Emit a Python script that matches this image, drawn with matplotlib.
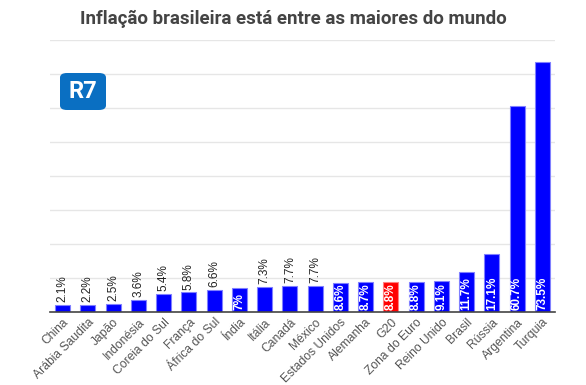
import matplotlib
matplotlib.use("Agg")
import matplotlib.pyplot as plt
from matplotlib.patches import FancyBboxPatch

countries = ["China", "Arábia Saudita", "Japão", "Indonésia", "Coreia do Sul", "França",
             "África do Sul", "Índia", "Itália", "Canadá", "México", "Estados Unidos",
             "Alemanha", "G20", "Zona do Euro", "Reino Unido", "Brasil", "Rússia",
             "Argentina", "Turquia"]
values = [2.1, 2.2, 2.5, 3.6, 5.4, 5.8, 6.6, 7.0, 7.3, 7.7, 7.7, 8.6, 8.7, 8.8, 8.8, 9.1,
          11.7, 17.1, 60.7, 73.5]
labels = ["2.1%", "2.2%", "2.5%", "3.6%", "5.4%", "5.8%", "6.6%", "7%", "7.3%", "7.7%",
          "7.7%", "8.6%", "8.7%", "8.8%", "8.8%", "9.1%", "11.7%", "17.1%", "60.7%", "73.5%"]
inside = [False] * 7 + [True] + [False] * 3 + [True] * 9
highlight = "G20"

plt.rcParams['font.family'] = ['Liberation Sans', 'DejaVu Sans']

fig = plt.figure(figsize=(5.86, 3.85), dpi=100)
ax = fig.add_axes([0.0853, 0.1896, 0.8618, 0.7064])

colors = ["#ff0000" if c == highlight else "#0000ff" for c in countries]
edges = ["#ff8080" if c == highlight else "#8080ff" for c in countries]
x = list(range(len(countries)))
ax.bar(x, values, width=0.6, color=colors, edgecolor=edges, linewidth=0.8, zorder=3)

ax.set_xlim(-0.5, len(countries) - 0.5)
ax.set_ylim(0, 80)
ax.set_yticks(range(10, 81, 10))
ax.yaxis.grid(True, color="#e6e6e6", linewidth=1)
ax.tick_params(axis='y', left=False, labelleft=False)
ax.tick_params(axis='x', length=0, pad=3)
for s in ["top", "right", "left"]:
    ax.spines[s].set_visible(False)
ax.spines["bottom"].set_color("#444444")
ax.spines["bottom"].set_linewidth(1.2)
ax.spines["bottom"].set_zorder(4)
ax.set_xticks(x)
ax.set_xticklabels(countries, rotation=45, ha="right", rotation_mode="anchor",
                   fontsize=8.7, color="#555555")

for xi, v, lab, ins in zip(x, values, labels, inside):
    if ins:
        ax.text(xi, 0.7, lab, rotation=90, ha="center", va="bottom", color="white",
                fontsize=8.5, fontweight="bold", zorder=5)
    else:
        ax.text(xi, v + 0.8, lab, rotation=90, ha="center", va="bottom", color="#222222",
                fontsize=8.5, zorder=5)

fig.text(0.5, 0.952, "Inflação brasileira está entre as maiores do mundo", ha="center",
         va="center", fontsize=13.5, fontweight="bold", color="#444444",
         family=["Roboto", "DejaVu Sans"])

# R7 logo
logo = FancyBboxPatch((60 / 586, 1 - 110 / 385), 46 / 586, 37 / 385,
                      boxstyle="round,pad=0,rounding_size=0.012",
                      transform=fig.transFigure, facecolor="#0a6fc2", edgecolor="none",
                      zorder=10)
fig.add_artist(logo)
fig.text(83 / 586, 1 - 92 / 385, "R7", ha="center", va="center", fontsize=17,
         fontweight="bold", color="white", zorder=11, family=["Roboto", "DejaVu Sans"])

fig.savefig("out.png", dpi=100)
